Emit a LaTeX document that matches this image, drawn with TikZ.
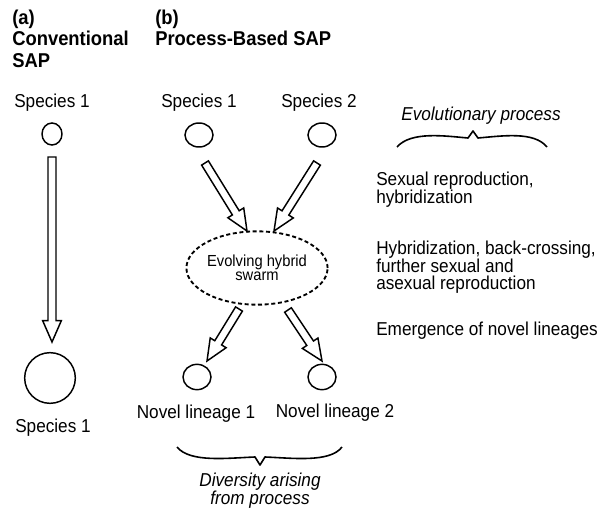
\documentclass[tikz,border=0pt]{standalone}
\usepackage{fontspec}
\setmainfont{Liberation Sans}[FakeStretch=0.92]
\usetikzlibrary{calc,shapes.geometric}
\tikzset{
  txt/.style = {inner sep=0pt, font=\fontsize{14}{13.3}\selectfont},
  hd/.style = {inner sep=0pt, anchor=base west, font=\fontsize{15}{16.5}\selectfont\bfseries},
  proc/.style = {txt, anchor=north west, align=left},
  note/.style = {inner sep=0pt, align=center, font=\fontsize{14}{13.3}\selectfont\itshape},
  spc/.style 2 args = {draw, ellipse, line width=1.1pt, inner sep=0pt,
    minimum width=#1, minimum height=#2},
  swarmbox/.style = {draw, ellipse, line width=1.4pt, dash pattern=on 3pt off 2pt,
    inner sep=0pt, minimum width=88pt, minimum height=55pt, align=center,
    font=\fontsize{12}{10.5}\selectfont},
  blk/.style = {draw, line width=1.1pt, line join=miter, fill=white},
  brc/.style = {draw, line width=1.2pt, line join=round}
}
\tikzset{>=latex}
\newcommand{\blockarrow}[2]{%
  \path ($(#2)!16pt!(#1)$) coordinate (hb);
  \draw[blk] ($(#1)!3pt!90:(#2)$) -- ($(hb)!3pt!90:(#2)$) -- ($(hb)!7pt!90:(#2)$) -- (#2)
    -- ($(hb)!7pt!-90:(#2)$) -- ($(hb)!3pt!-90:(#2)$) -- ($(#1)!3pt!-90:(#2)$) -- cycle;
}

\begin{document}
\begin{tikzpicture}[x=0.75pt,y=-0.75pt]
  \useasboundingbox (0,0) rectangle (600,510);

  % headings
  \node[hd] (ha) at (12,25) {(a)};
  \node[hd, anchor=north west, align=left] (conv) at (12,31) {Conventional\\SAP};
  \node[hd] (hb) at (155,25) {(b)};
  \node[hd] (proc) at (155,45.7) {Process-Based SAP};

  % (a) conventional
  \node[txt, anchor=base] (lspA) at (52,108) {Species 1};
  \node[spc={15pt}{16.5pt}] (spA) at (52,134) {};
  \node[spc={38pt}{38pt}] (spB) at (50,378) {};
  \node[txt, anchor=base] (lspB) at (53,432) {Species 1};
  \coordinate (aT) at (52,157);
  \coordinate (aH) at (52,342);
  \blockarrow{aT}{aH}

  % (b) process-based
  \node[txt, anchor=base] (lsp1) at (199,108) {Species 1};
  \node[txt, anchor=base] (lsp2) at (319,108) {Species 2};
  \node[spc={21pt}{18pt}] (sp1) at (199,135) {};
  \node[spc={21pt}{18pt}] (sp2) at (322,135) {};
  \node[swarmbox] (swarm) at (257,268) {Evolving hybrid\\swarm};
  \node[spc={21pt}{19pt}] (nl1) at (197,377) {};
  \node[spc={21pt}{19pt}] (nl2) at (322,377) {};
  \node[txt, anchor=base] (lnl1) at (196,418) {Novel lineage 1};
  \node[txt, anchor=base] (lnl2) at (335,417) {Novel lineage 2};

  \coordinate (b1T) at (205,163);
  \coordinate (b1H) at (247,231);
  \coordinate (b2T) at (317,163);
  \coordinate (b2H) at (274,231);
  \coordinate (c1T) at (239,309);
  \coordinate (c1H) at (207,361);
  \coordinate (c2T) at (288,310);
  \coordinate (c2H) at (322,361);
  \blockarrow{b1T}{b1H}
  \blockarrow{b2T}{b2H}
  \blockarrow{c1T}{c1H}
  \blockarrow{c2T}{c2H}

  % braces
  \draw[brc] (397,147) .. controls (411,131) and (445,136) .. (468,138) -- (473,131)
    -- (478,138) .. controls (502,136) and (534,131) .. (547,147);
  \draw[brc] (177,447) .. controls (190,463) and (228,458) .. (255,457) -- (260,465)
    -- (265,457) .. controls (292,458) and (330,463) .. (342,447);
  \node[note, anchor=base] (evo) at (481,120) {Evolutionary process};
  \node[note, anchor=north] (div) at (260,473) {Diversity arising\\from process};

  % processes
  \node[proc] (p1) at (376,171.5) {Sexual reproduction,\\hybridization};
  \node[proc] (p2) at (376,240.5) {Hybridization, back-crossing,\\further sexual and\\asexual reproduction};
  \node[txt, anchor=base west] (p3) at (376,335) {Emergence of novel lineages};
\end{tikzpicture}
\end{document}
